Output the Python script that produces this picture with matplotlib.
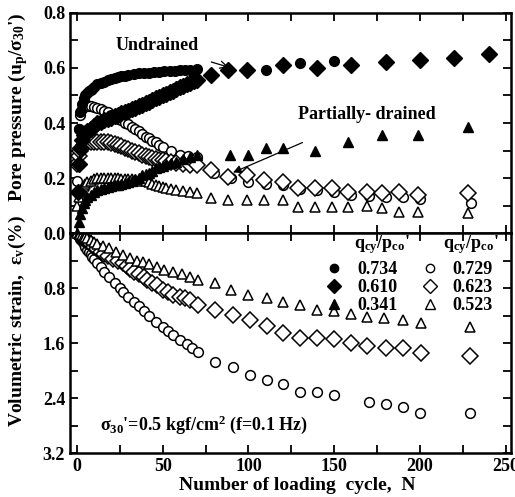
import matplotlib
matplotlib.use("Agg")
import matplotlib.pyplot as plt
from matplotlib.ticker import MultipleLocator

plt.rcParams['font.family'] = ['Liberation Serif', 'DejaVu Serif']
plt.rcParams['font.weight'] = 'bold'
plt.rcParams['mathtext.fontset'] = 'custom'
plt.rcParams['mathtext.rm'] = 'Liberation Serif:bold'
plt.rcParams['mathtext.it'] = 'Liberation Serif:italic:bold'
plt.rcParams['mathtext.bf'] = 'Liberation Serif:bold'

# ---- pore pressure ratio (top panel) ----
n_c734 = [1, 2, 3, 4, 5, 6, 7, 8, 9, 10, 12, 14, 16, 18, 20, 22, 24, 26, 28, 30,
          33, 36, 39, 42, 45, 48, 51, 54, 57, 60, 63, 66, 70, 110, 130, 150, 200]
u_c734 = [0.38, 0.44, 0.47, 0.49, 0.50, 0.51, 0.515, 0.52, 0.525, 0.53, 0.54, 0.545,
          0.55, 0.555, 0.56, 0.565, 0.568, 0.57, 0.572, 0.575, 0.578, 0.58, 0.582,
          0.583, 0.585, 0.586, 0.588, 0.589, 0.59, 0.591, 0.592, 0.594, 0.597,
          0.593, 0.618, 0.625, 0.629]

n_d610 = [0.5, 1, 2, 3, 4, 5, 6, 8, 10, 12, 14, 16, 18, 20, 22, 24, 26, 28, 30, 32,
          34, 36, 38, 40, 42, 44, 46, 48, 50, 52, 54, 56, 58, 60, 62, 64, 66, 68, 70,
          78, 88, 99, 120, 140, 160, 180, 200, 220, 240]
u_d610 = [0.15, 0.25, 0.31, 0.34, 0.355, 0.365, 0.37, 0.38, 0.39, 0.40, 0.405, 0.41,
          0.415, 0.42, 0.425, 0.43, 0.435, 0.44, 0.445, 0.45, 0.455, 0.46, 0.466,
          0.472, 0.478, 0.484, 0.49, 0.495, 0.50, 0.506, 0.512, 0.518, 0.524, 0.53,
          0.536, 0.541, 0.546, 0.551, 0.556, 0.575, 0.593, 0.593, 0.61, 0.60, 0.61,
          0.62, 0.63, 0.636, 0.65]

n_t341 = [0, 1, 2, 3, 4, 5, 6, 8, 10, 12, 14, 16, 18, 20, 22, 24, 26, 28, 30, 32,
          34, 36, 38, 40, 42, 44, 46, 48, 50, 52, 55, 58, 62, 66, 70, 89, 100, 110,
          120, 139, 158, 178, 199, 228]
u_t341 = [0.0, 0.04, 0.07, 0.09, 0.11, 0.12, 0.13, 0.14, 0.15, 0.155, 0.16, 0.163,
          0.166, 0.17, 0.173, 0.176, 0.18, 0.183, 0.187, 0.19, 0.195, 0.20, 0.21,
          0.215, 0.22, 0.225, 0.235, 0.24, 0.245, 0.25, 0.255, 0.26, 0.268, 0.275,
          0.284, 0.284, 0.284, 0.308, 0.308, 0.30, 0.33, 0.356, 0.356, 0.386]

n_oc729 = [0, 1, 2, 3, 4, 5, 6, 7, 8, 10, 12, 14, 16, 18, 20, 22, 24, 26, 28, 30,
           32, 34, 36, 38, 40, 42, 44, 46, 48, 50, 55, 60, 65, 70, 80, 90, 100, 110,
           120, 130, 140, 150, 160, 170, 180, 190, 200, 230]
u_oc729 = [0.19, 0.38, 0.43, 0.45, 0.46, 0.465, 0.465, 0.46, 0.46, 0.458, 0.455,
           0.45, 0.445, 0.44, 0.43, 0.42, 0.415, 0.41, 0.40, 0.395, 0.385, 0.38,
           0.37, 0.36, 0.35, 0.345, 0.335, 0.33, 0.32, 0.313, 0.30, 0.285, 0.28,
           0.275, 0.22, 0.20, 0.185, 0.18, 0.175, 0.16, 0.155, 0.15, 0.14, 0.135,
           0.13, 0.13, 0.125, 0.11]

n_od623 = [0, 1, 2, 3, 4, 5, 6, 8, 10, 12, 14, 16, 18, 20, 22, 24, 26, 28, 30, 32,
           34, 36, 38, 40, 42, 44, 46, 48, 50, 52, 55, 58, 62, 66, 70, 78, 88, 99,
           109, 120, 129, 139, 149, 158, 169, 178, 188, 199, 228]
u_od623 = [0.25, 0.28, 0.30, 0.31, 0.32, 0.325, 0.33, 0.33, 0.33, 0.33, 0.33, 0.33,
           0.33, 0.327, 0.325, 0.32, 0.315, 0.31, 0.305, 0.30, 0.295, 0.29, 0.285,
           0.28, 0.277, 0.273, 0.27, 0.267, 0.265, 0.262, 0.258, 0.255, 0.25, 0.248,
           0.247, 0.23, 0.205, 0.21, 0.193, 0.186, 0.164, 0.164, 0.164, 0.15, 0.15,
           0.145, 0.148, 0.138, 0.145]

n_ot523 = [0, 1, 2, 3, 4, 5, 6, 8, 10, 12, 14, 16, 18, 20, 22, 24, 26, 28, 30, 32,
           34, 36, 38, 40, 42, 44, 46, 48, 50, 52, 55, 58, 62, 66, 70, 78, 88, 99,
           109, 120, 129, 139, 149, 158, 169, 178, 188, 199, 228]
u_ot523 = [0.10, 0.13, 0.15, 0.16, 0.17, 0.18, 0.185, 0.19, 0.195, 0.20, 0.20, 0.20,
           0.20, 0.20, 0.20, 0.20, 0.198, 0.197, 0.195, 0.195, 0.193, 0.192, 0.19,
           0.188, 0.185, 0.18, 0.176, 0.172, 0.168, 0.165, 0.16, 0.155, 0.152,
           0.148, 0.145, 0.127, 0.12, 0.12, 0.12, 0.12, 0.095, 0.095, 0.095, 0.095,
           0.097, 0.09, 0.077, 0.077, 0.073]

# ---- volumetric strain (bottom panel), open symbols only ----
n_ev729 = [0, 1, 2, 3, 4, 5, 6, 7, 8, 9, 10, 12, 14, 16, 19, 22, 25, 27, 30, 33, 36,
           39, 42, 46, 50, 53, 56, 60, 64, 67, 70.6, 80.5, 91, 101, 111, 120, 130,
           140, 150, 170, 180, 190, 200, 229]
ev729 = [0, 0.04, 0.08, 0.12, 0.16, 0.20, 0.24, 0.27, 0.31, 0.35, 0.38, 0.44, 0.50,
         0.56, 0.64, 0.72, 0.80, 0.86, 0.93, 1.00, 1.06, 1.14, 1.20, 1.30, 1.37,
         1.42, 1.49, 1.55, 1.62, 1.67, 1.73, 1.87, 1.95, 2.07, 2.14, 2.20, 2.31,
         2.31, 2.36, 2.46, 2.48, 2.53, 2.62, 2.62]

n_ev623 = [0, 1, 2, 3, 4, 5, 6, 8, 10, 12, 14, 16, 18, 21, 24, 27, 29, 31, 33, 36,
           39, 41, 44, 46.5, 50, 53, 56, 60, 63, 66, 70.6, 80.5, 91, 101, 111, 120,
           130, 140, 150, 160, 169, 180, 190, 200.7, 229]
ev623 = [0, 0.02, 0.04, 0.06, 0.08, 0.10, 0.12, 0.16, 0.20, 0.23, 0.27, 0.30, 0.33,
         0.37, 0.41, 0.44, 0.48, 0.52, 0.56, 0.60, 0.64, 0.68, 0.72, 0.75, 0.83,
         0.86, 0.90, 0.93, 0.95, 0.97, 1.05, 1.12, 1.19, 1.27, 1.35, 1.46, 1.53,
         1.53, 1.54, 1.60, 1.64, 1.67, 1.67, 1.75, 1.79]

n_ev523 = [0, 1, 2, 3, 4, 5, 6, 8, 10, 12, 15, 19, 23, 27, 31, 35, 38.7, 42, 46.5,
           51, 56, 61, 66, 70.6, 80.5, 90, 100, 111, 120, 130, 140, 150, 160, 169,
           179, 190, 200.7, 229]
ev523 = [0, 0.01, 0.02, 0.03, 0.04, 0.06, 0.07, 0.10, 0.13, 0.16, 0.19, 0.22, 0.27,
         0.32, 0.36, 0.40, 0.42, 0.45, 0.49, 0.53, 0.57, 0.60, 0.64, 0.68, 0.73,
         0.83, 0.90, 0.95, 1.00, 1.05, 1.12, 1.13, 1.17, 1.22, 1.24, 1.27, 1.31,
         1.37]

fig = plt.figure(figsize=(5.15, 4.97), dpi=100)
ax1 = fig.add_axes([0.136, 0.531, 0.856, 0.443])
ax2 = fig.add_axes([0.136, 0.0885, 0.856, 0.4425], sharex=ax1)

filled = dict(color='black', linestyle='none', mec='black')
hollow = dict(color='black', linestyle='none', mfc='white', mec='black', mew=1.1)

ax1.plot(n_oc729, u_oc729, 'o', ms=7, **hollow)
ax1.plot(n_od623, u_od623, 'D', ms=8, **hollow)
ax1.plot(n_ot523, u_ot523, '^', ms=7, **hollow)
ax1.plot(n_t341, u_t341, '^', ms=7, **filled)
ax1.plot(n_d610, u_d610, 'D', ms=8, **filled)
ax1.plot(n_c734, u_c734, 'o', ms=7, **filled)

ax2.plot(n_ev729, ev729, 'o', ms=7, **hollow)
ax2.plot(n_ev623, ev623, 'D', ms=8, **hollow)
ax2.plot(n_ev523, ev523, '^', ms=7, **hollow)

ax1.set_xlim(-4, 253)
ax1.set_ylim(0, 0.8)
ax2.set_ylim(3.2, 0)

for ax in (ax1, ax2):
    ax.xaxis.set_major_locator(MultipleLocator(50))
    ax.xaxis.set_minor_locator(MultipleLocator(25))
    ax.tick_params(which='both', direction='in', top=True, right=True, width=1.3)
    ax.tick_params(which='major', length=6, labelsize=13)
    ax.tick_params(which='minor', length=6)
    for s in ax.spines.values():
        s.set_linewidth(1.8)
ax1.yaxis.set_major_locator(MultipleLocator(0.2))
ax1.yaxis.set_minor_locator(MultipleLocator(0.1))
ax1.tick_params(labelbottom=False)
ax2.set_yticks([0.8, 1.6, 2.4, 3.2])
ax2.set_yticklabels(['0.8', '1.6', '2.4', '3.2'])
ax2.yaxis.set_minor_locator(MultipleLocator(0.4))

ax1.annotate('Undrained', xy=(90, 0.6), xytext=(47, 0.68), ha='center', va='center',
             fontsize=13, fontweight='bold',
             arrowprops=dict(arrowstyle='->', lw=0.9, color='black', shrinkA=12, shrinkB=2))
ax1.annotate('Partially- drained', xy=(91, 0.22), xytext=(169, 0.43), ha='center',
             va='center', fontsize=13, fontweight='bold',
             arrowprops=dict(arrowstyle='-|>', lw=0.9, color='black', shrinkA=30,
                             shrinkB=0, mutation_scale=12))

ax2.text(0.068, 0.127, "σ$_\\mathrm{30}$'=0.5 kgf/cm$^\\mathrm{2}$ (f=0.1 Hz)",
         transform=ax2.transAxes, fontsize=13, fontweight='bold', ha='left', va='center')

h = []
h += ax2.plot([], [], 'o', ms=6, color='black', linestyle='none', label='0.734')
h += ax2.plot([], [], 'D', ms=7, color='black', linestyle='none', label='0.610')
h += ax2.plot([], [], '^', ms=6.5, color='black', linestyle='none', label='0.341')
h += ax2.plot([], [], 'o', ms=6, linestyle='none', mfc='white', mec='black', label='0.729')
h += ax2.plot([], [], 'D', ms=7, linestyle='none', mfc='white', mec='black', label='0.623')
h += ax2.plot([], [], '^', ms=6.5, linestyle='none', mfc='white', mec='black', label='0.523')
ax2.legend(handles=h, ncol=2, loc='upper right', bbox_to_anchor=(0.975, 0.905),
           frameon=False, fontsize=13, handlelength=1.0, handletextpad=0.75,
           columnspacing=1.3, labelspacing=0.05, borderaxespad=0)
hdr = "q$_\\mathrm{cy}$/p$_\\mathrm{co}$'"
ax2.text(0.707, 0.895, hdr, transform=ax2.transAxes, fontsize=13, ha='center', va='bottom')
ax2.text(0.909, 0.895, hdr, transform=ax2.transAxes, fontsize=13, ha='center', va='bottom')

fig.text(0.035, 0.557,
         "Volumetric strain,  ε$_\\mathrm{v}$(%)   Pore pressure (u$_\\mathrm{p}$/σ$_\\mathrm{30}$')",
         rotation=90, ha='center', va='center', fontsize=14, fontweight='bold')
fig.text(0.577, 0.024, "Number of loading  cycle,  N", ha='center', va='center',
         fontsize=14, fontweight='bold')

plt.savefig('out.png', dpi=100)
